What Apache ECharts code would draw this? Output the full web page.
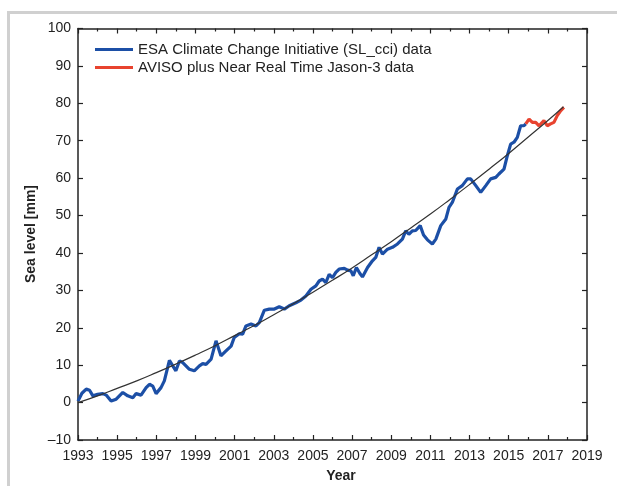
<!DOCTYPE html>
<html>
<head>
<meta charset="utf-8">
<script src="https://cdn.jsdelivr.net/npm/echarts@6/dist/echarts.min.js"></script>
<style>
  html, body { margin: 0; padding: 0; background: #fff; }
  #chart { width: 617px; height: 486px; }
</style>
</head>
<body>
<div id="chart"></div>
<script>
// Global mean sea level, monthly-ish samples (decimal year, mm)
const cciYears = [
  1993.00, 1993.20, 1993.42, 1993.59, 1993.76, 1994.00, 1994.27, 1994.44, 1994.69, 1994.95,
  1995.29, 1995.54, 1995.80, 1995.97, 1996.22, 1996.48, 1996.65, 1996.82, 1996.99, 1997.24,
  1997.41, 1997.67, 1997.84, 1998.00, 1998.18, 1998.35, 1998.69, 1998.94, 1999.20, 1999.37,
  1999.54, 1999.80, 2000.05, 2000.30, 2000.56, 2000.82, 2000.98, 2001.24, 2001.41, 2001.58,
  2001.84, 2002.09, 2002.26, 2002.52, 2002.77, 2003.03, 2003.28, 2003.54, 2003.79, 2004.13,
  2004.39, 2004.64, 2004.90, 2005.15, 2005.32, 2005.49, 2005.66, 2005.83, 2006.00, 2006.17,
  2006.34, 2006.60, 2006.77, 2006.94, 2007.06, 2007.22, 2007.40, 2007.53, 2007.79, 2008.04,
  2008.21, 2008.38, 2008.55, 2008.81, 2009.06, 2009.32, 2009.57, 2009.74, 2009.90, 2010.08,
  2010.25, 2010.48, 2010.65, 2010.85, 2011.10, 2011.28, 2011.53, 2011.79, 2011.95, 2012.12,
  2012.38, 2012.63, 2012.89, 2013.06, 2013.32, 2013.57, 2013.83, 2014.08, 2014.34, 2014.50,
  2014.76, 2014.93, 2015.10, 2015.27, 2015.44, 2015.61, 2015.78, 2015.87
];
const cciLevel = [
  0.4, 2.5, 3.6, 3.3, 1.8, 2.2, 2.4, 2.0, 0.4, 0.9,
  2.7, 1.8, 1.3, 2.4, 2.0, 4.0, 4.9, 4.4, 2.4, 4.0,
  5.8, 11.3, 9.8, 8.5, 11.1, 10.7, 8.9, 8.5, 9.8, 10.4,
  10.2, 11.6, 16.5, 12.5, 13.8, 15.1, 17.4, 18.4, 18.3, 20.5,
  21.0, 20.5, 21.4, 24.7, 25.0, 25.0, 25.6, 25.0, 25.9, 26.7,
  27.4, 28.5, 30.3, 31.2, 32.5, 33.0, 32.1, 34.3, 33.4, 34.8,
  35.7, 35.9, 35.4, 35.2, 33.9, 36.1, 34.5, 33.6, 36.1, 37.9,
  38.8, 41.5, 39.7, 41.0, 41.5, 42.4, 43.7, 45.9, 45.0, 45.9,
  46.0, 47.3, 44.8, 43.5, 42.4, 43.7, 47.3, 49.1, 52.2, 53.5,
  57.1, 58.0, 59.8, 59.8, 58.0, 56.2, 58.0, 59.8, 60.2, 61.1,
  62.4, 66.0, 69.1, 69.6, 70.9, 74.0, 74.0, 74.5
];

const nrtYears = [2015.87, 2016.04, 2016.21, 2016.38, 2016.55, 2016.80, 2016.97, 2017.14, 2017.31, 2017.48, 2017.65, 2017.82];
const nrtLevel = [74.5, 75.8, 74.9, 74.9, 74.0, 75.4, 74.0, 74.5, 74.9, 76.7, 78.0, 78.9];

// Quadratic trend curve, sampled yearly
const trendYears = [
  1993, 1994, 1995, 1996, 1997, 1998, 1999, 2000, 2001, 2002, 2003, 2004, 2005,
  2006, 2007, 2008, 2009, 2010, 2011, 2012, 2013, 2014, 2015, 2016, 2017, 2017.8
];
const trendLevel = [
  0.0, 1.8, 3.8, 5.8, 8.0, 10.3, 12.7, 15.2, 17.9, 20.6, 23.5, 26.4, 29.5,
  32.7, 36.0, 39.5, 43.0, 46.7, 50.4, 54.3, 58.3, 62.4, 66.6, 71.0, 75.4, 79.1
];

const yearTicksFrom = 1993;   // first labelled year
const yearTicksTo = 2019;
const levelMin = -10;
const levelMax = 100;

const seriesNames = ['ESA Climate Change Initiative (SL_cci) data', 'AVISO plus Near Real Time Jason-3 data'];

const FONT = '"Liberation Sans", Arial, Helvetica, sans-serif';
const INK = '#222';

function pairs(xs, ys) {
  return xs.map((x, i) => [x - yearTicksFrom, ys[i]]);
}

const chart = echarts.init(document.getElementById('chart'), null, { renderer: 'canvas' });

function xAxisDef(pos, showLabels) {
  return {
    type: 'value',
    position: pos,
    min: 0,
    max: yearTicksTo - yearTicksFrom,
    interval: 2,
    axisLine: { show: true, onZero: false, lineStyle: { color: INK, width: 1.5 } },
    axisTick: { show: true, inside: true, length: 5, lineStyle: { color: INK, width: 1.2 } },
    minorTick: { show: true, splitNumber: 2, length: 3, lineStyle: { color: INK, width: 1.2 } },
    axisLabel: {
      show: showLabels, margin: 9, color: INK, fontSize: 14, fontFamily: FONT,
      formatter: v => String(v + yearTicksFrom)
    },
    splitLine: { show: false },
    minorSplitLine: { show: false }
  };
}

function yAxisDef(pos, showLabels) {
  return {
    type: 'value',
    position: pos,
    min: levelMin,
    max: levelMax,
    interval: 10,
    axisLine: { show: true, onZero: false, lineStyle: { color: INK, width: 1.5 } },
    axisTick: { show: true, inside: true, length: 5, lineStyle: { color: INK, width: 1.2 } },
    axisLabel: {
      show: showLabels, margin: 7, color: INK, fontSize: 14, fontFamily: FONT,
      formatter: v => (v < 0 ? '\u2013' + Math.abs(v) : String(v))
    },
    splitLine: { show: false }
  };
}

chart.setOption({
  animation: false,
  backgroundColor: '#fff',
  grid: { left: 78, right: 30, top: 28.5, bottom: 46, containLabel: false },
  xAxis: [xAxisDef('bottom', true), xAxisDef('top', false)],
  yAxis: [yAxisDef('left', true), yAxisDef('right', false)],
  legend: {
    data: seriesNames,
    orient: 'vertical',
    left: 95,
    top: 42,
    padding: 0,
    itemWidth: 38,
    itemHeight: 3,
    itemGap: 3,
    icon: 'rect',
    textStyle: { color: INK, fontSize: 15, fontFamily: FONT },
    selectedMode: false
  },
  graphic: [
    { type: 'rect', shape: { x: 7, y: 11, width: 610, height: 3 }, style: { fill: '#d0d0d0' }, silent: true },
    { type: 'rect', shape: { x: 7, y: 11, width: 3, height: 475 }, style: { fill: '#d0d0d0' }, silent: true },
    {
      type: 'text', x: 341, y: 476,
      style: { text: 'Year', fill: INK, font: 'bold 14px ' + FONT, textAlign: 'center', textVerticalAlign: 'middle' }
    },
    {
      type: 'text', x: 31, y: 234, rotation: Math.PI / 2,
      style: { text: 'Sea level [mm]', fill: INK, font: 'bold 14px ' + FONT, textAlign: 'center', textVerticalAlign: 'middle' }
    }
  ],
  series: [
    {
      name: seriesNames[0],
      type: 'line',
      data: pairs(cciYears, cciLevel),
      showSymbol: false,
      lineStyle: { color: '#1c4fa6', width: 3.2 },
      itemStyle: { color: '#1c4fa6' },
      z: 3
    },
    {
      name: seriesNames[1],
      type: 'line',
      data: pairs(nrtYears, nrtLevel),
      showSymbol: false,
      lineStyle: { color: '#e8432f', width: 3.2 },
      itemStyle: { color: '#e8432f' },
      z: 3
    },
    {
      name: 'trend',
      type: 'line',
      data: pairs(trendYears, trendLevel),
      smooth: true,
      showSymbol: false,
      lineStyle: { color: '#333', width: 1.2 },
      itemStyle: { color: '#333' },
      z: 4
    }
  ]
});
</script>
</body>
</html>
